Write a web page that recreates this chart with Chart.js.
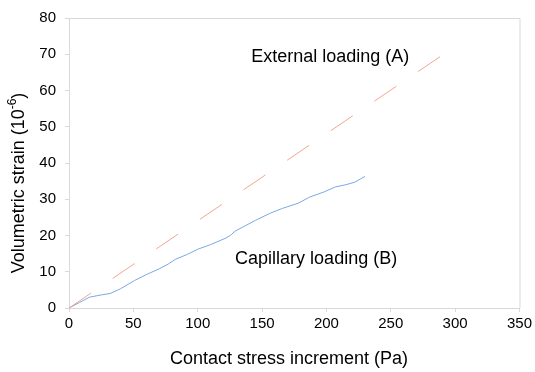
<!DOCTYPE html>
<html>
<head>
<meta charset="utf-8">
<script src="https://cdn.jsdelivr.net/npm/chart.js@4/dist/chart.umd.min.js"></script>
<style>
  html, body { margin: 0; padding: 0; background: #fff; }
  #wrap { width: 535px; height: 372px; }
</style>
</head>
<body>
<div id="wrap"><canvas id="chart"></canvas></div>
<script>
// data
const capX = [0, 8, 16, 25, 32, 40, 51, 60, 70, 77, 83, 92, 100, 110, 122, 126, 129, 136, 145, 156, 166, 178, 187, 198, 207, 215, 222, 230];
const capY = [0, 1.5, 3.0, 3.6, 4.0, 5.3, 7.6, 9.2, 10.8, 12.1, 13.5, 14.8, 16.2, 17.5, 19.3, 20.2, 21.2, 22.5, 24.2, 26.1, 27.5, 28.9, 30.6, 32.0, 33.4, 34.0, 34.7, 36.3];
const extX = [0, 289];
const extY = [0, 69.5];
const labels = [
  { text: 'External loading (A)', x: 203, y: 69.2 },
  { text: 'Capillary loading (B)', x: 192, y: 13.6 }
];
const xTitle = 'Contact stress increment (Pa)';
const yTitle = ['Volumetric strain (10', '-6', ')'];

const FONT = '"Liberation Sans", Arial, sans-serif';
const axisGray = '#d9d9d9';

function pts(xs, ys) {
  return xs.map((x, i) => ({ x: x, y: ys[i] }));
}

// frame, axis titles and text labels
const extras = {
  id: 'extras',
  afterDraw(chart) {
    const ctx = chart.ctx;
    const a = chart.chartArea;
    ctx.save();
    ctx.strokeStyle = axisGray;
    ctx.lineWidth = 1;
    ctx.beginPath();
    ctx.moveTo(a.left, a.top + 0.5);
    ctx.lineTo(a.right + 0.5, a.top + 0.5);
    ctx.lineTo(a.right + 0.5, a.bottom);
    ctx.stroke();

    ctx.fillStyle = '#000';
    ctx.font = '18px ' + FONT;
    ctx.textAlign = 'center';
    ctx.textBaseline = 'middle';
    labels.forEach(l => {
      ctx.fillText(l.text, chart.scales.x.getPixelForValue(l.x), chart.scales.y.getPixelForValue(l.y));
    });

    // x title
    ctx.fillText(xTitle, 289, 359);

    // y title with superscript
    ctx.translate(19, 183);
    ctx.rotate(-Math.PI / 2);
    ctx.textAlign = 'left';
    ctx.font = '18px ' + FONT;
    const w0 = ctx.measureText(yTitle[0]).width;
    const w2 = ctx.measureText(yTitle[2]).width;
    ctx.font = '12px ' + FONT;
    const w1 = ctx.measureText(yTitle[1]).width;
    let px = -(w0 + w1 + w2) / 2;
    ctx.font = '18px ' + FONT;
    ctx.fillText(yTitle[0], px, 0);
    px += w0;
    ctx.font = '12px ' + FONT;
    ctx.fillText(yTitle[1], px, -6);
    px += w1;
    ctx.font = '18px ' + FONT;
    ctx.fillText(yTitle[2], px, 0);
    ctx.restore();
  }
};

const ctx = document.getElementById('chart').getContext('2d');
new Chart(ctx, {
  type: 'scatter',
  data: {
    datasets: [
      {
        data: pts(extX, extY),
        showLine: true,
        borderColor: '#f4a58f',
        borderWidth: 1,
        borderDash: [26.5, 26.2],
        pointRadius: 0
      },
      {
        data: pts(capX, capY),
        showLine: true,
        borderColor: '#7aa8e8',
        borderWidth: 1,
        pointRadius: 0,
        tension: 0
      }
    ]
  },
  options: {
    responsive: true,
    maintainAspectRatio: false,
    animation: false,
    layout: { padding: { top: 13, right: 14, left: 0, bottom: 0 } },
    plugins: { legend: { display: false }, tooltip: { enabled: false } },
    scales: {
      x: {
        type: 'linear',
        min: 0, max: 350,
        afterFit(s) { s.height = 64; },
        ticks: { stepSize: 50, color: '#000', font: { family: FONT, size: 15 }, padding: 3, maxRotation: 0 },
        grid: { drawOnChartArea: false, drawTicks: true, tickLength: 4, color: axisGray },
        border: { color: axisGray }
      },
      y: {
        type: 'linear',
        min: 0, max: 80,
        afterFit(s) { s.width = 69; },
        ticks: { stepSize: 10, color: '#000', font: { family: FONT, size: 15 }, padding: 9 },
        grid: { drawOnChartArea: false, drawTicks: true, tickLength: 4, color: axisGray },
        border: { color: axisGray }
      }
    }
  },
  plugins: [extras]
});
</script>
</body>
</html>
